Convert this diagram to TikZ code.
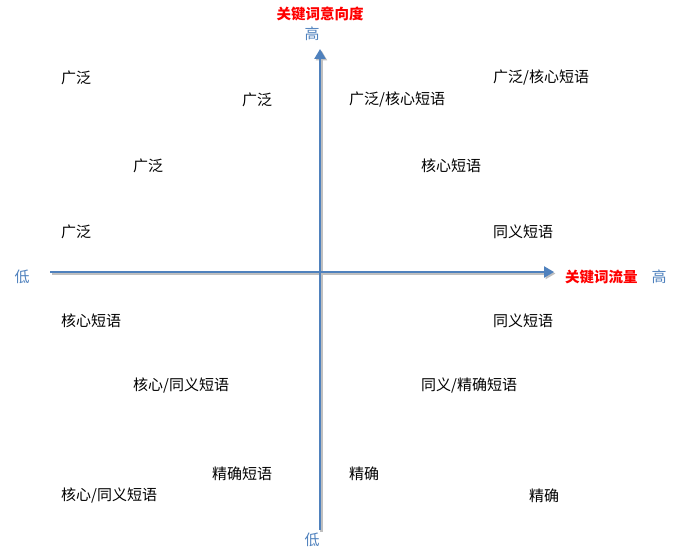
\documentclass[tikz,border=0pt]{standalone}
\usepackage{fontspec}
\setmainfont{Noto Sans CJK SC}
\usetikzlibrary{arrows.meta}
\definecolor{axisblue}{HTML}{4F81BD}
\definecolor{lblblue}{HTML}{4F81BD}
\tikzset{
  lbl/.style={anchor=west, inner sep=0pt, font=\fontsize{15}{17}\selectfont},
  axislbl/.style={inner sep=0pt, text=lblblue, font=\fontsize{15}{17}\selectfont},
  titlelbl/.style={inner sep=0pt, text=red, font=\bfseries\fontsize{14.5}{17}\selectfont},
  axis/.style={draw=axisblue, line width=2.8pt, -{Triangle[length=10pt,width=11pt]}},
  axisshadow/.style={draw=black!25, line width=2.8pt, -{Triangle[length=10pt,width=11pt]}}
}
\begin{document}
\begin{tikzpicture}[x=1pt,y=-1pt]
\useasboundingbox (0,0) rectangle (685,556);
% axis endpoints
\coordinate (xs) at (50,272);
\coordinate (xe) at (554,272);
\coordinate (ys) at (320,530);
\coordinate (ye) at (320,49);
\draw[axisshadow] ([shift={(1.5,1.5)}]xs) -- ([shift={(1.5,1.5)}]xe);
\draw[axisshadow] ([shift={(1.5,1.5)}]ys) -- ([shift={(1.5,1.5)}]ye);
\draw[axis] (xs) -- (xe);
\draw[axis] (ys) -- (ye);
% titles
\node[titlelbl] (yt) at (320,14) {关键词意向度};
\node[axislbl] (yhi) at (312,34) {高};
\node[axislbl] (ylo) at (312,540) {低};
\node[axislbl] (xlo) at (22,277) {低};
\node[titlelbl, anchor=west] (xt) at (565,277) {关键词流量};
\node[axislbl] (xhi) at (659,277) {高};
% labels
\node[lbl] (a1) at (61,78) {广泛};
\node[lbl] (a2) at (242,100) {广泛};
\node[lbl] (a3) at (349,100) {广泛/核心短语};
\node[lbl] (a4) at (493,78) {广泛/核心短语};
\node[lbl] (a5) at (133,166) {广泛};
\node[lbl] (a6) at (421,166) {核心短语};
\node[lbl] (a7) at (61,232) {广泛};
\node[lbl] (a8) at (493,232) {同义短语};
\node[lbl] (b1) at (61,321) {核心短语};
\node[lbl] (b2) at (493,321) {同义短语};
\node[lbl] (b3) at (133,386) {核心/同义短语};
\node[lbl] (b4) at (421,386) {同义/精确短语};
\node[lbl] (b5) at (212,474) {精确短语};
\node[lbl] (b6) at (349,474) {精确};
\node[lbl] (b7) at (61,496) {核心/同义短语};
\node[lbl] (b8) at (529,496) {精确};
\end{tikzpicture}
\end{document}
